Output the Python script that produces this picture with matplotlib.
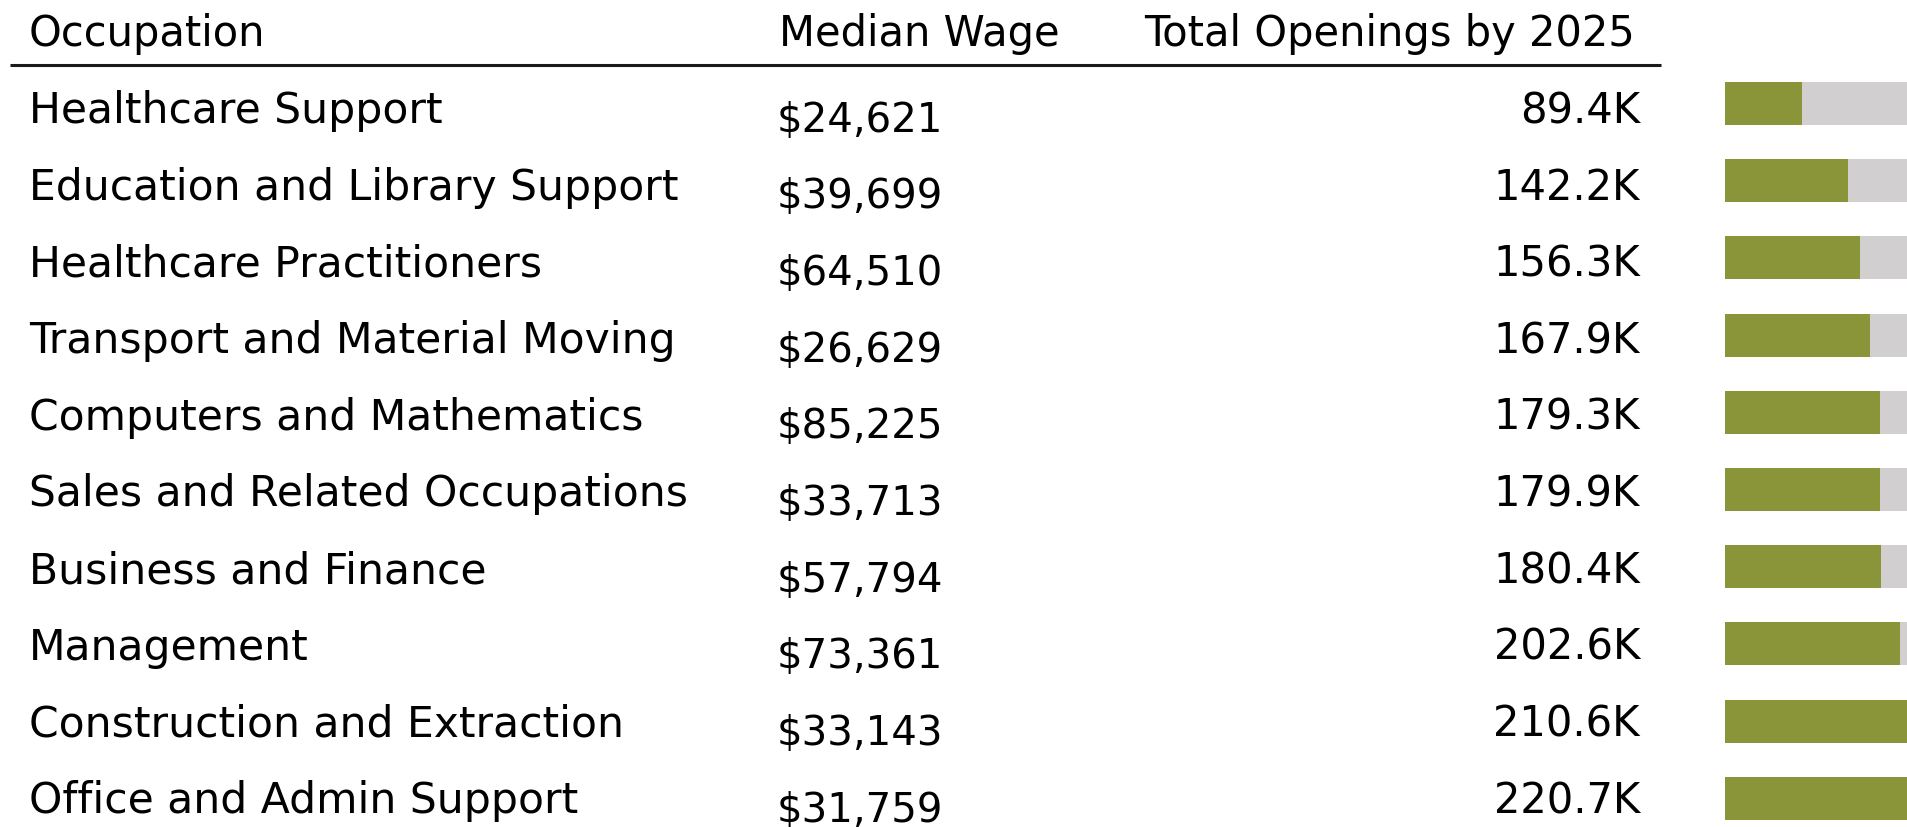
import matplotlib
matplotlib.use("Agg")
import matplotlib.pyplot as plt

occupations = [
    "Healthcare Support",
    "Education and Library Support",
    "Healthcare Practitioners",
    "Transport and Material Moving",
    "Computers and Mathematics",
    "Sales and Related Occupations",
    "Business and Finance",
    "Management",
    "Construction and Extraction",
    "Office and Admin Support",
]
median_wage = [24621, 39699, 64510, 26629, 85225, 33713, 57794, 73361, 33143, 31759]
openings_k = [89.4, 142.2, 156.3, 167.9, 179.3, 179.9, 180.4, 202.6, 210.6, 220.7]

W, H = 1908, 827
plt.rcParams['font.family'] = ['DejaVu Sans']

fig = plt.figure(figsize=(W / 100, H / 100), dpi=100)

# table text axes: one row unit = text pitch, row index at the label baseline
ax = fig.add_axes([0, 0, 1, 1])
ax.set_xlim(0, 1)
pitch = 76.67
ax.set_ylim((H - 123) / pitch, -123 / pitch)
ax.axis('off')

fs = 30
hdr_y = (46 - 123) / pitch
ax.text(29 / W, hdr_y, "Occupation", fontsize=fs, va='baseline', ha='left')
ax.text(779 / W, hdr_y, "Median Wage", fontsize=fs, va='baseline', ha='left')
ax.text(1635 / W, hdr_y, "Total Openings by 2025", fontsize=fs, va='baseline', ha='right')
ax.plot([10 / W, 1661 / W], [(65 - 123) / pitch] * 2, color='#1a1a1a', lw=2.2,
        solid_capstyle='butt')

for i, (occ, wage, op) in enumerate(zip(occupations, median_wage, openings_k)):
    ax.text(29 / W, i, occ, fontsize=30.6, va='baseline', ha='left')
    ax.text(777 / W, i + 8.5 / pitch, f"${wage:,}", fontsize=29, va='baseline', ha='left')
    ax.text(1640 / W, i, f"{op:.1f}K", fontsize=fs, va='baseline', ha='right')

# bar axes, runs past the right edge of the figure like the reference
px_per_k = 0.863
top = max(openings_k)
bx = fig.add_axes([1725 / W, 0, top * px_per_k / W, 1])
bpitch = 77.2
bx.set_ylim((H - 103.5) / bpitch, -103.5 / bpitch)
bx.set_xlim(0, top)
rows = list(range(len(openings_k)))
bx.barh(rows, [top] * len(rows), height=43 / bpitch, color='#D1CFCF')
bx.barh(rows, openings_k, height=43 / bpitch, color='#8A953A')
bx.axis('off')

fig.savefig("out.png", dpi=100)
